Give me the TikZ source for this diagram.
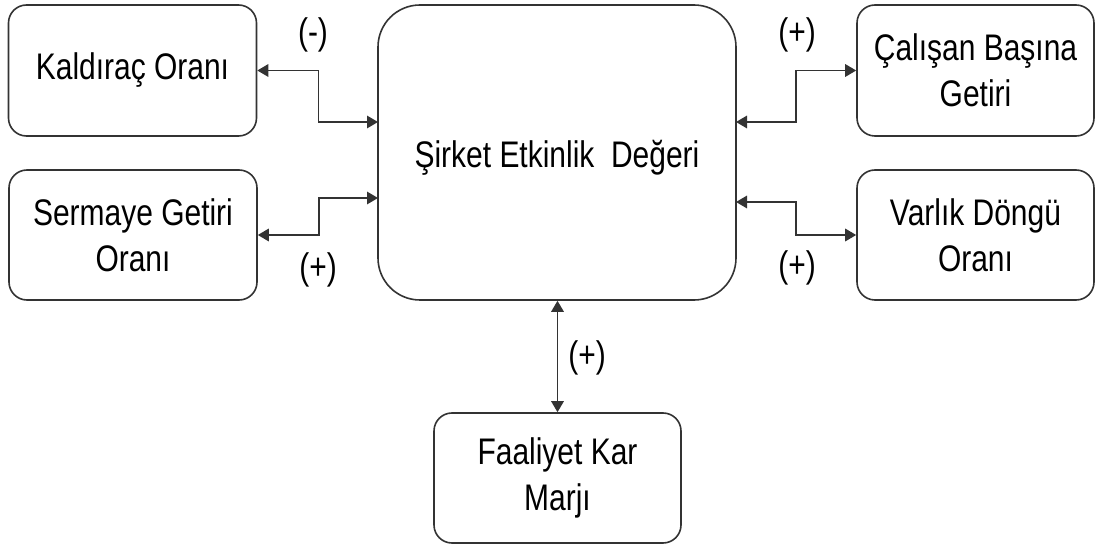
\documentclass[tikz,border=0pt]{standalone}
\usepackage{fontspec}
\setmainfont{Liberation Sans}[FakeStretch=0.81]
\usetikzlibrary{arrows.meta}
\definecolor{edge}{HTML}{333333}
\tikzset{
  box/.style={draw=edge, line width=1.6pt, rounded corners=18pt, align=center,
    inner sep=0pt, font=\fontsize{37}{46}\selectfont},
  bigbox/.style={box, rounded corners=42pt},
  arr/.style={{Triangle[length=11pt,width=12.5pt]}-{Triangle[length=11pt,width=12.5pt]},
    line width=1.6pt, draw=edge},
  sign/.style={font=\fontsize{37}{46}\selectfont, inner sep=0pt}
}
\begin{document}
\begin{tikzpicture}[x=1pt, y=-1pt]
  \useasboundingbox (0,0) rectangle (1098,545);

  % central box
  \node[bigbox, minimum width=358pt, minimum height=295pt] (cen) at (557,152.5) {};
  \node[font=\fontsize{37}{46}\selectfont] (centxt) at (557,158) {Şirket Etkinlik\ \ Değeri};

  % surrounding boxes
  \node[box, minimum width=248pt, minimum height=131pt] (kal) at (132.5,70.5) {Kaldıraç Oranı};
  \node[box, minimum width=248pt, minimum height=130pt] (ser) at (133,235) {Sermaye Getiri\\Oranı};
  \node[box, minimum width=237pt, minimum height=131pt] (cal) at (975.5,70.5) {Çalışan Başına\\Getiri};
  \node[box, minimum width=237pt, minimum height=130pt] (var) at (975.5,235) {Varlık Döngü\\Oranı};
  \node[box, minimum width=247pt, minimum height=130pt] (faa) at (557.5,478) {Faaliyet Kar\\Marjı};

  % connector end points on the central box
  \coordinate (cL1) at (378,122);
  \coordinate (cL2) at (378,198);
  \coordinate (cR1) at (736,122);
  \coordinate (cR2) at (736,202);

  % connectors
  \draw[arr] (kal.east) -- ++(61,0) |- (cL1);
  \draw[arr] (ser.east) -- ++(61,0) |- (cL2);
  \draw[arr] (cal.west) -- ++(-60,0) |- (cR1);
  \draw[arr] (var.west) -- ++(-60,0) |- (cR2);
  \draw[arr] (faa.north) -- (faa.north |- cen.south);

  % signs
  \node[sign] (s1) at (313,35) {(-)};
  \node[sign] (s2) at (797,35) {(+)};
  \node[sign] (s3) at (318,270) {(+)};
  \node[sign] (s4) at (797,268) {(+)};
  \node[sign] (s5) at (587,358) {(+)};
\end{tikzpicture}
\end{document}
